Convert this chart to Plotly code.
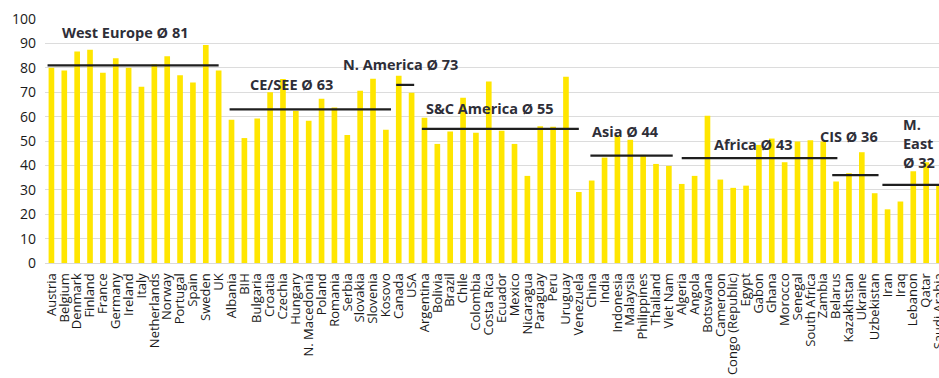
import plotly.graph_objects as go

# Regions, their member countries and the scores shown per country
regions = ["West Europe", "CE/SEE", "N. America", "S&C America", "Asia", "Africa", "CIS", "M. East"]
region_avgs = [81, 63, 73, 55, 44, 43, 36, 32]

west_europe = ["Austria", "Belgium", "Denmark", "Finland", "France", "Germany", "Ireland", "Italy",
               "Netherlands", "Norway", "Portugal", "Spain", "Sweden", "UK"]
west_europe_vals = [80.0, 78.9, 86.7, 87.4, 78.0, 83.9, 80.0, 72.2, 81.5, 84.7, 76.9, 74.0, 89.3, 78.9]

ce_see = ["Albania", "BIH", "Bulgaria", "Croatia", "Czechia", "Hungary", "N. Macedonia", "Poland",
          "Romania", "Serbia", "Slovakia", "Slovenia", "Kosovo"]
ce_see_vals = [58.7, 51.2, 59.2, 70.0, 75.4, 62.4, 58.3, 67.3, 63.7, 52.5, 70.6, 75.5, 54.6]

n_america = ["Canada", "USA"]
n_america_vals = [76.7, 69.8]

sc_america = ["Argentina", "Bolivia", "Brazil", "Chile", "Colombia", "Costa Rica", "Ecuador", "Mexico",
              "Nicaragua", "Paraguay", "Peru", "Uruguay", "Venezuela"]
sc_america_vals = [59.5, 48.8, 53.9, 67.7, 53.4, 74.4, 54.2, 48.8, 35.7, 56.0, 55.8, 76.3, 29.1]

asia = ["China", "India", "Indonesia", "Malaysia", "Philippines", "Thailand", "Viet Nam"]
asia_vals = [33.8, 43.2, 52.5, 50.5, 44.3, 40.6, 39.8]

africa = ["Algeria", "Angola", "Botswana", "Cameroon", "Congo (Republic)", "Egypt", "Gabon", "Ghana",
          "Morocco", "Senegal", "South Africa", "Zambia"]
africa_vals = [32.4, 35.7, 60.3, 34.2, 30.8, 31.7, 48.4, 51.0, 41.3, 49.8, 50.3, 49.8]

cis = ["Belarus", "Kazakhstan", "Ukraine", "Uzbekistan"]
cis_vals = [33.4, 36.8, 45.4, 28.6]

m_east = ["Iran", "Iraq", "Lebanon", "Qatar", "Saudi Arabia"]
m_east_vals = [22.0, 25.2, 37.6, 41.3, 32.0]

groups = [west_europe, ce_see, n_america, sc_america, asia, africa, cis, m_east]
group_vals = [west_europe_vals, ce_see_vals, n_america_vals, sc_america_vals,
              asia_vals, africa_vals, cis_vals, m_east_vals]

countries = [c for g in groups for c in g]
values = [v for g in group_vals for v in g]

fig = go.Figure(go.Bar(
    x=countries, y=values,
    marker=dict(color="#FFE600", line=dict(width=0)),
    hoverinfo="x+y",
))

# Average line per region: extra reach (in category units) on each side of the group
line_reach = [(-0.3, 0.0), (-0.15, 0.4), (-0.2, 0.2), (-0.2, 0.0),
              (-0.1, 0.3), (0.0, 1.1), (-0.3, 0.3), (-0.4, 0.6)]
# Label anchor per region: (x in category units, y in score units), left aligned
label_pos = [(0.65, 94.4), (15.25, 73.0), (22.5, 81.2), (28.95, 63.2),
             (41.9, 53.9), (51.35, 48.4), (59.6, 51.8), (66.05, 48.8)]

start = 0
for name, avg, members, reach, pos in zip(regions, region_avgs, groups, line_reach, label_pos):
    first, last = start, start + len(members) - 1
    fig.add_shape(type="line", xref="x", yref="y",
                  x0=first + reach[0], x1=last + reach[1], y0=avg, y1=avg,
                  line=dict(color="#1f1f1f", width=2.2), layer="above")
    text = f"{name} Ø {avg}"
    if name == "M. East":
        text = f"M.<br>East<br>Ø {avg}"
    fig.add_annotation(x=pos[0], y=pos[1], xref="x", yref="y", text=text,
                       showarrow=False, xanchor="left", yanchor="middle", align="left",
                       font=dict(family="Open Sans", size=14.5, color="#2e2e38", weight="bold"))
    start = last + 1

fig.update_layout(
    width=939, height=378,
    margin=dict(l=45, r=0, t=19, b=115, autoexpand=False),
    paper_bgcolor="white", plot_bgcolor="white",
    bargap=0.56,
    showlegend=False,
    font=dict(family="Open Sans", color="#1a1a1a"),
)
fig.update_xaxes(
    type="category", range=[-0.5, 69.0], automargin=False,
    tickmode="array", tickvals=countries, ticktext=countries,
    tickangle=-90, tickfont=dict(size=13, color="#1a1a1a"),
    showgrid=False, showline=True, linecolor="#d9d9d9", linewidth=1,
    ticks="", ticklabelstandoff=4, fixedrange=True,
)
fig.update_yaxes(
    range=[0, 100], dtick=10, automargin=False,
    tickfont=dict(size=14, color="#1a1a1a"),
    showgrid=True, gridcolor="#dcdcdc", gridwidth=1,
    zeroline=False, showline=False, ticks="", ticklabelstandoff=8,
)

fig.write_html("out.html")
